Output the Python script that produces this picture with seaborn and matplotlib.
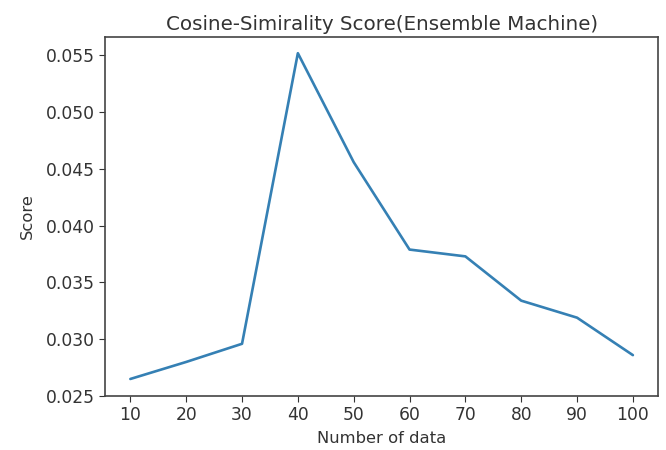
import matplotlib
matplotlib.use("Agg")
import matplotlib.pyplot as plt
import seaborn as sns
import pandas as pd

num_data = [10, 20, 30, 40, 50, 60, 70, 80, 90, 100]
scores = [0.0265, 0.0280, 0.0296, 0.0552, 0.0456, 0.0379, 0.0373, 0.0334, 0.0319, 0.0286]

sns.set_style("ticks")
plt.rcParams["font.family"] = ["DejaVu Sans"]

df = pd.DataFrame({"Number of data": num_data, "Score": scores})

fig = plt.figure(figsize=(6.66, 4.5), dpi=100)
ax = fig.add_axes([0.158, 0.12, 0.83, 0.798])

sns.lineplot(data=df, x="Number of data", y="Score", ax=ax,
             color="#3580b4", linewidth=1.9)

ax.set_xticks(num_data)
ax.set_yticks([0.025, 0.030, 0.035, 0.040, 0.045, 0.050, 0.055])
ax.set_yticklabels([f"{v:.3f}" for v in ax.get_yticks()])
ax.tick_params(labelsize=12.3, colors="#333333", length=4)
for s in ax.spines.values():
    s.set_color("#444444")
    s.set_linewidth(1.2)
    s.set_visible(True)

ax.set_title("Cosine-Simirality Score(Ensemble Machine)", fontsize=14.3,
             color="#333333", pad=5)
ax.set_xlabel("Number of data", fontsize=11.8, color="#333333", labelpad=5)
ax.set_ylabel("Score", fontsize=11.8, color="#333333", labelpad=8)

fig.savefig("out.png", dpi=100, facecolor="white")
